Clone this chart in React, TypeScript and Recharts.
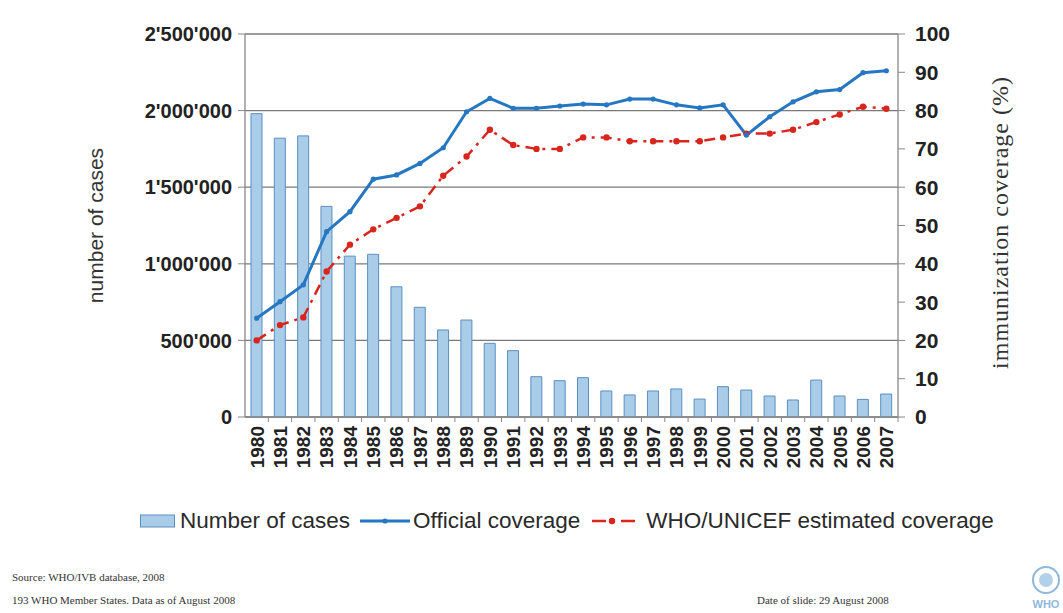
import React from 'react';
import { ComposedChart, Bar, Line, XAxis, YAxis, CartesianGrid } from 'recharts';

const years = ['1980','1981','1982','1983','1984','1985','1986','1987','1988','1989','1990','1991','1992','1993','1994','1995','1996','1997','1998','1999','2000','2001','2002','2003','2004','2005','2006','2007'];
const cases = [1980000, 1820000, 1835000, 1375000, 1050000, 1062000, 850000, 716000, 568000, 633000, 481000, 433000, 263000, 237000, 257000, 170000, 144000, 170000, 183000, 117000, 198000, 176000, 137000, 111000, 241000, 137000, 115000, 150000];
const official = [25.8, 30.1, 34.5, 48.4, 53.6, 62.1, 63.2, 66.2, 70.3, 79.7, 83.2, 80.6, 80.6, 81.2, 81.7, 81.5, 83.0, 83.0, 81.5, 80.7, 81.5, 73.6, 78.4, 82.3, 84.9, 85.5, 89.9, 90.4];
const estimated = [20, 24, 26, 38, 45, 49, 52, 55, 63, 68, 75, 71, 70, 70, 73, 73, 72, 72, 72, 72, 73, 74, 74, 75, 77, 79, 81, 80.5];
const leftTicks = [0, 500000, 1000000, 1500000, 2000000, 2500000];
const rightTicks = [0, 10, 20, 30, 40, 50, 60, 70, 80, 90, 100];

const data = years.map((y, i) => ({ year: y, cases: cases[i], official: official[i], estimated: estimated[i] }));

const W = 1063;
const H = 613;
const PLOT_L = 245;
const PLOT_R = 898;
const HALF_BAND = (PLOT_R - PLOT_L) / years.length / 2;

const BAR_FILL = '#a9cde9';
const BAR_STROKE = '#5b8fc0';
const BLUE = '#2677c2';
const RED = '#d8261d';
const SANS = "Arial, 'Liberation Sans', sans-serif";
const SERIF = "'Times New Roman', 'Liberation Serif', serif";

const fmtLeft = (v: number) => String(v).replace(/\B(?=(\d{3})+(?!\d))/g, "'");

const YearTick = (props: any) => {
  const { x, y, payload } = props;
  return (
    <g transform={`translate(${x},${y})`}>
      <line x1={HALF_BAND} y1={0} x2={HALF_BAND} y2={5} stroke="#888" strokeWidth={1} />
      <text transform="rotate(-90)" x={-9} y={0} dy="0.36em" textAnchor="end" fontFamily={SANS} fontWeight="bold" fontSize={19} fill="#222">
        {payload.value}
      </text>
    </g>
  );
};

const LeftTitle = (props: any) => {
  const vb = props.viewBox || {};
  const cy = vb.y + vb.height / 2;
  return (
    <text x={95} y={cy} transform={`rotate(-90, 95, ${cy})`} textAnchor="middle" dominantBaseline="central" fontFamily={SANS} fontSize={21} fill="#333">
      number of cases
    </text>
  );
};

const RightTitle = (props: any) => {
  const vb = props.viewBox || {};
  const cy = vb.y + vb.height / 2 - 3;
  return (
    <text x={1000} y={cy} transform={`rotate(-90, 1000, ${cy})`} textAnchor="middle" dominantBaseline="central" fontFamily={SERIF} fontSize={24} letterSpacing={1} fill="#333">
      immunization coverage (%)
    </text>
  );
};

const EstDot = (props: any) => {
  const { cx, cy } = props;
  if (cx == null || cy == null) return null;
  return <circle cx={cx} cy={cy} r={3.2} fill={RED} stroke="none" />;
};

const OffDot = (props: any) => {
  const { cx, cy } = props;
  if (cx == null || cy == null) return null;
  return <circle cx={cx} cy={cy} r={2.6} fill={BLUE} stroke="none" />;
};

export default function App() {
  return (
    <div style={{ position: 'absolute', left: 0, top: 0, width: W, height: H, background: '#fff', overflow: 'hidden' }}>
      <ComposedChart
        width={W}
        height={H}
        data={data}
        margin={{ top: 34, right: 35, left: 0, bottom: 136 }}
      >
        <CartesianGrid yAxisId="left" vertical={false} horizontal stroke="#7a7a7a" strokeWidth={1.3} horizontalValues={leftTicks} />
        <XAxis
          dataKey="year"
          interval={0}
          height={60}
          tick={<YearTick />}
          tickLine={false}
          tickSize={0}
          tickMargin={0}
          axisLine={{ stroke: '#888', strokeWidth: 1.3 }}
        />
        <YAxis
          yAxisId="left"
          width={245}
          domain={[0, 2500000]}
          ticks={leftTicks}
          tickFormatter={fmtLeft}
          tick={{ fontFamily: SANS, fontWeight: 'bold', fontSize: 20, fill: '#222' }}
          tickLine={{ stroke: '#888' }}
          tickSize={7}
          tickMargin={6}
          axisLine={{ stroke: '#888', strokeWidth: 1.3 }}
          label={<LeftTitle />}
        />
        <YAxis
          yAxisId="right"
          orientation="right"
          width={130}
          domain={[0, 100]}
          ticks={rightTicks}
          tick={{ fontFamily: SANS, fontWeight: 'bold', fontSize: 21, fill: '#222', textAnchor: 'start' }}
          tickLine={{ stroke: '#888' }}
          tickSize={7}
          tickMargin={10}
          axisLine={{ stroke: '#888', strokeWidth: 1.3 }}
          label={<RightTitle />}
        />
        <Bar yAxisId="left" dataKey="cases" barSize={11} fill={BAR_FILL} stroke={BAR_STROKE} strokeWidth={1} isAnimationActive={false} />
        <Line yAxisId="right" dataKey="estimated" type="linear" stroke={RED} strokeWidth={2.5} strokeDasharray="11 6 3 6" dot={<EstDot />} activeDot={false} isAnimationActive={false} />
        <Line yAxisId="right" dataKey="official" type="linear" stroke={BLUE} strokeWidth={3} dot={<OffDot />} activeDot={false} isAnimationActive={false} />
      </ComposedChart>

      <div style={{ position: 'absolute', left: 140, top: 506, height: 30, display: 'flex', alignItems: 'center', fontFamily: SANS, fontSize: 22.5, color: '#2a2a2a', whiteSpace: 'nowrap' }}>
        <svg width={36} height={16} style={{ marginRight: 4 }}>
          <rect x={0.5} y={2} width={34} height={12} fill={BAR_FILL} stroke={BAR_STROKE} strokeWidth={1} />
        </svg>
        <span style={{ marginRight: 10 }}>Number of cases</span>
        <svg width={50} height={16} style={{ marginRight: 3 }}>
          <line x1={0} y1={8} x2={50} y2={8} stroke={BLUE} strokeWidth={3} />
          <circle cx={25} cy={8} r={2.6} fill={BLUE} />
        </svg>
        <span style={{ marginRight: 12 }}>Official coverage</span>
        <svg width={48} height={16} style={{ marginRight: 6 }}>
          <line x1={0} y1={8} x2={48} y2={8} stroke={RED} strokeWidth={2.5} strokeDasharray="14 6 3 6" />
          <circle cx={20} cy={8} r={3.2} fill={RED} />
        </svg>
        <span>WHO/UNICEF estimated coverage</span>
      </div>

      <div style={{ position: 'absolute', left: 12, top: 571, fontFamily: SERIF, fontSize: 11, color: '#333', whiteSpace: 'nowrap' }}>
        Source: WHO/IVB database, 2008
      </div>
      <div style={{ position: 'absolute', left: 12, top: 594, fontFamily: SERIF, fontSize: 11, color: '#333', whiteSpace: 'nowrap' }}>
        193 WHO Member States. Data as of August 2008
      </div>
      <div style={{ position: 'absolute', left: 757, top: 594, fontFamily: SERIF, fontSize: 11, color: '#333', whiteSpace: 'nowrap' }}>
        Date of slide: 29 August 2008
      </div>
      <svg style={{ position: 'absolute', left: 1028, top: 560 }} width={35} height={53}>
        <circle cx={18} cy={20} r={13} fill="none" stroke="#8fb8dc" strokeWidth={2} />
        <circle cx={18} cy={20} r={7} fill="#b3d0ea" />
        <text x={18} y={48} textAnchor="middle" fontFamily={SANS} fontWeight="bold" fontSize={11} fill="#8fb8dc">WHO</text>
      </svg>
    </div>
  );
}
